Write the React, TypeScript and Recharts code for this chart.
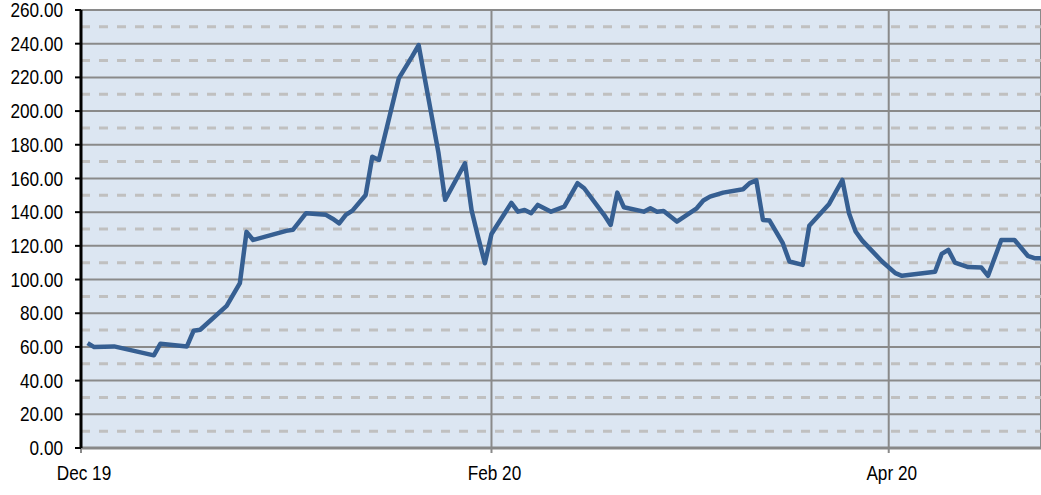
import { CartesianGrid, Line, LineChart, ReferenceLine, XAxis, YAxis } from "recharts";

const dates = [
  "2019-12-02", "2019-12-03", "2019-12-06", "2019-12-12", "2019-12-13", "2019-12-17",
  "2019-12-18", "2019-12-19", "2019-12-23", "2019-12-25", "2019-12-26", "2019-12-27",
  "2020-01-01", "2020-01-02", "2020-01-04", "2020-01-07", "2020-01-08", "2020-01-09",
  "2020-01-10", "2020-01-11", "2020-01-13", "2020-01-14", "2020-01-15", "2020-01-18",
  "2020-01-20", "2020-01-21", "2020-01-24", "2020-01-25", "2020-01-28", "2020-01-29",
  "2020-01-30", "2020-01-31", "2020-02-01", "2020-02-04", "2020-02-05", "2020-02-06",
  "2020-02-07", "2020-02-08", "2020-02-10", "2020-02-12", "2020-02-14", "2020-02-15",
  "2020-02-18", "2020-02-19", "2020-02-20", "2020-02-21", "2020-02-24", "2020-02-25",
  "2020-02-26", "2020-02-27", "2020-02-29", "2020-03-03", "2020-03-04", "2020-03-05",
  "2020-03-07", "2020-03-10", "2020-03-11", "2020-03-12", "2020-03-13", "2020-03-14",
  "2020-03-16", "2020-03-17", "2020-03-19", "2020-03-20", "2020-03-23", "2020-03-25",
  "2020-03-26", "2020-03-27", "2020-03-28", "2020-03-31", "2020-04-02", "2020-04-03",
  "2020-04-08", "2020-04-09", "2020-04-10", "2020-04-11", "2020-04-13", "2020-04-15",
  "2020-04-16", "2020-04-18", "2020-04-20", "2020-04-22", "2020-04-23", "2020-04-24",
];

const prices = [
  62.3, 59.9, 60.3, 55.0, 61.9, 60.3,
  69.6, 70.2, 84.4, 97.9, 128.3, 123.5,
  128.9, 129.5, 139.4, 138.4, 136.1, 133.4,
  138.4, 140.9, 150.2, 172.9, 171.0, 219.4,
  232.3, 239.2, 175.0, 147.3, 169.0, 141.0,
  125.0, 109.7, 127.0, 145.5, 140.3, 141.3,
  139.4, 144.3, 140.3, 143.3, 157.2, 154.2,
  138.4, 132.4, 151.6, 142.9, 140.3, 142.3,
  140.3, 140.7, 134.4, 142.3, 146.9, 149.2,
  151.6, 153.6, 157.2, 158.9, 135.4, 135.0,
  121.6, 110.7, 108.7, 131.9, 144.9, 159.1,
  139.4, 128.5, 123.1, 110.7, 103.8, 102.2,
  104.6, 115.2, 117.6, 110.1, 107.4, 107.1,
  102.2, 123.5, 123.5, 114.1, 112.7, 112.7,
];

const xTickDates = ["2019-12-01", "2020-02-01", "2020-04-01"];
const xTickLabels = ["Dec 19", "Feb 20", "Apr 20"];
const xDomain = ["2019-12-01", "2020-04-24"];

const yTicks = [0, 20, 40, 60, 80, 100, 120, 140, 160, 180, 200, 220, 240, 260];
const yMinor = [10, 30, 50, 70, 90, 110, 130, 150, 170, 190, 210, 230, 250];

const toTime = (d: string) => Date.parse(d + "T00:00:00Z");

const data = dates.map((d, i) => ({ t: toTime(d), price: prices[i] }));
const xTicks = xTickDates.map(toTime);

// no narrow font installed, so squeeze Liberation Sans to look like Arial Narrow
const FONT = "'Liberation Sans', Arial, sans-serif";
const SQUEEZE = 0.86;

function NarrowTick(props: any) {
  const { x, y, payload, anchor, dy, dx = 0, format } = props;
  return (
    <g transform={`translate(${x + dx},${y})`}>
      <text
        transform={`scale(${SQUEEZE},1)`}
        textAnchor={anchor}
        dy={dy}
        fontFamily={FONT}
        fontSize={20}
        fill="#000"
      >
        {format(payload.value)}
      </text>
    </g>
  );
}

export default function App() {
  return (
    <div style={{ position: "absolute", left: 0, top: 0 }}>
      <LineChart
        width={1041}
        height={495}
        data={data}
        margin={{ top: 10, right: 0, left: 0, bottom: 7 }}
      >
        <CartesianGrid
          fill="#dce6f2"
          stroke="#8a8a8a"
          strokeWidth={2}
          horizontal
          vertical
        />
        {yMinor.map((v) => (
          <ReferenceLine
            key={v}
            y={v}
            stroke="#c0c0c0"
            strokeWidth={3}
            strokeDasharray="9 9"
          />
        ))}
        <XAxis
          dataKey="t"
          type="number"
          scale="linear"
          domain={[toTime(xDomain[0]), toTime(xDomain[1])]}
          ticks={xTicks}
          tick={
            <NarrowTick
              anchor="middle"
              dy="0.71em"
              dx={3}
              format={(v: number) => xTickLabels[xTicks.indexOf(v)] ?? ""}
            />
          }
          tickSize={5}
          tickMargin={13}
          tickLine={{ stroke: "#8a8a8a", strokeWidth: 2 }}
          axisLine={{ stroke: "#888888", strokeWidth: 3 }}
          height={40}
          allowDataOverflow
        />
        <YAxis
          type="number"
          domain={[0, 260]}
          ticks={yTicks}
          tick={
            <NarrowTick
              anchor="end"
              dy="0.355em"
              format={(v: number) => v.toFixed(2)}
            />
          }
          tickSize={6}
          tickMargin={12}
          tickLine={{ stroke: "#000", strokeWidth: 2 }}
          axisLine={{ stroke: "#000", strokeWidth: 3 }}
          width={81}
          interval={0}
        />
        <Line
          type="linear"
          dataKey="price"
          stroke="#365f92"
          strokeWidth={4.5}
          strokeLinejoin="round"
          dot={false}
          activeDot={false}
          isAnimationActive={false}
        />
      </LineChart>
    </div>
  );
}
